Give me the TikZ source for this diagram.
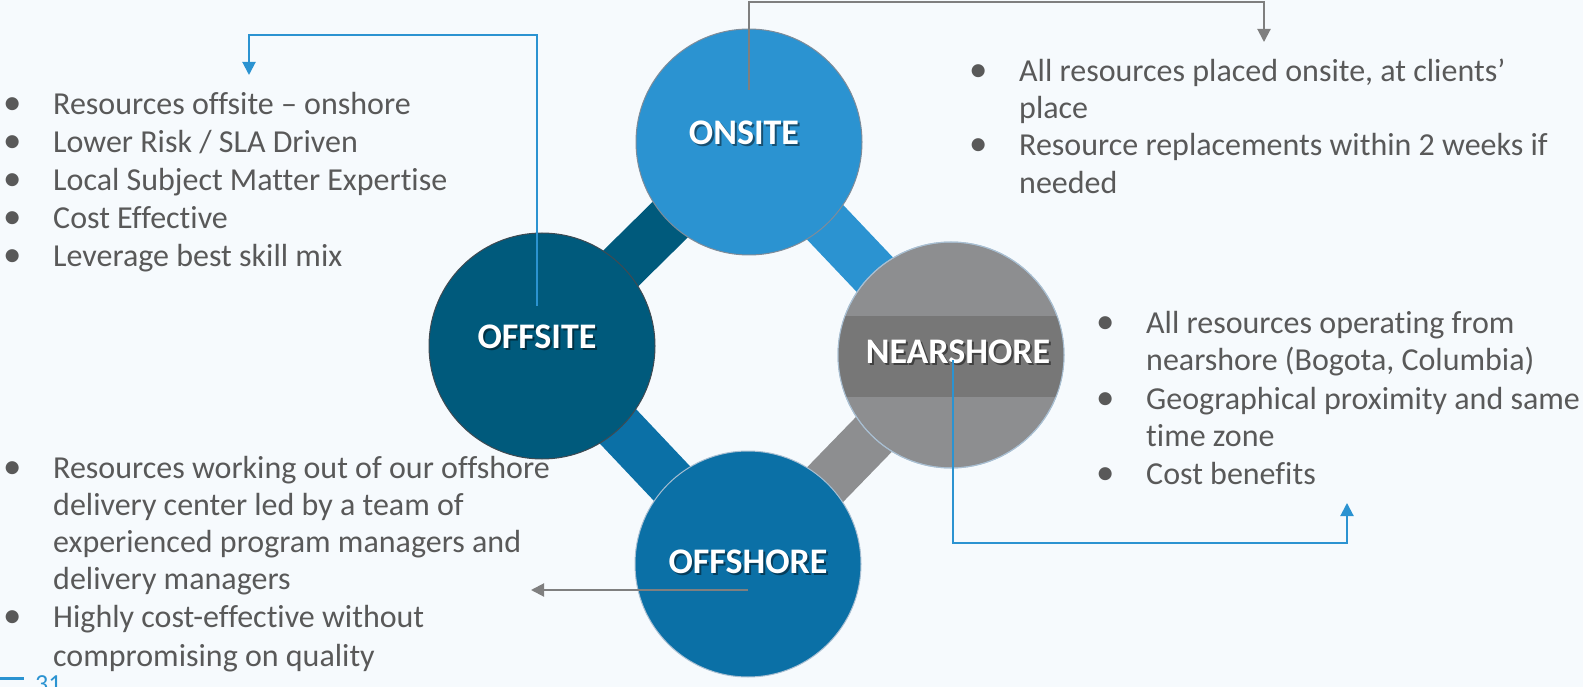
\documentclass[tikz,border=0pt]{standalone}
\usepackage{fontspec}
\setmainfont{Carlito}[Ligatures=NoCommon]
\usetikzlibrary{arrows.meta}
\definecolor{bg}{HTML}{F6FAFD}
\definecolor{onc}{HTML}{2B93D1}
\definecolor{offc}{HTML}{005A7C}
\definecolor{nearc}{HTML}{8D8E90}
\definecolor{bandc}{HTML}{777777}
\definecolor{offshc}{HTML}{0B70A6}
\definecolor{txtc}{HTML}{595959}
\definecolor{arrg}{HTML}{7F7F7F}
\definecolor{edgea}{HTML}{7F8C99}
\definecolor{edgeb}{HTML}{3F4A52}
\definecolor{edgec}{HTML}{A9BFD2}
\newcommand\bl{\llap{\makebox[41pt][l]{\makebox[0pt]{\scalebox{1.15}{•}}}}}
\begin{document}
\begin{tikzpicture}[x=1pt,y=-1pt,
  circ/.style={circle, minimum size=226pt, inner sep=0pt, line width=1pt},
  bar/.style={line width=50pt, line cap=butt},
  lbl/.style={text=white, font=\fontsize{36}{42}\selectfont\bfseries, inner sep=0pt},
  shd/.style={text=black, opacity=0.45, font=\fontsize{36}{42}\selectfont\bfseries, inner sep=0pt},
  txt/.style={anchor=base west, inner sep=0pt, text=txtc, font=\fontsize{32}{38}\selectfont},
  garr/.style={draw=arrg, line width=2pt, -{Triangle[length=13pt,width=13pt]}},
  barr/.style={draw=onc, line width=2pt, -{Triangle[length=13pt,width=13pt]}},
]
\fill[bg] (0,0) rectangle (1583,687);
\useasboundingbox (0,0) rectangle (1583,687);

% centres
\coordinate (con) at (749,142);
\coordinate (coff) at (542,346);
\coordinate (cnear) at (951,355);
\coordinate (cosh) at (748,564);

% bars
\draw[bar, offc] (con) -- (coff);
\draw[bar, onc] (con) -- (cnear);
\draw[bar, nearc] (cnear) -- (cosh);
\draw[bar, offshc] (coff) -- (cosh);

% circles
\node[circ, fill=onc, draw=edgea] (on) at (con) {};
\node[circ, fill=offc, draw=edgeb] (off) at (coff) {};
\node[circ, fill=nearc, draw=edgec] (near) at (cnear) {};
\node[circ, fill=offshc, draw=edgec] (osh) at (cosh) {};
\begin{scope}
  \clip (cnear) circle (113pt);
  \fill[bandc] (830,316) rectangle (1075,397);
\end{scope}
\draw[edgec, line width=1pt] (cnear) circle (113pt);

% labels
\node[shd] (onls) at (746,135) {ONSITE};
\node[lbl] (onl) at (744,133) {ONSITE};
\node[shd] (offls) at (539,339) {OFFSITE};
\node[lbl] (offl) at (537,337) {OFFSITE};
\node[shd] (nearls) at (960,354) {NEARSHORE};
\node[lbl] (nearl) at (958,352) {NEARSHORE};
\node[shd] (oshls) at (750,564) {OFFSHORE};
\node[lbl] (oshl) at (748,562) {OFFSHORE};

% connectors
\coordinate (g1s) at (749,90);
\coordinate (g1k) at (1264,2);
\coordinate (g1e) at (1264,42);
\draw[garr] (g1s) |- (g1k) -- (g1e);

\coordinate (b1s) at (537,306);
\coordinate (b1k) at (249,35);
\coordinate (b1e) at (249,75);
\draw[barr] (b1s) |- (b1k) -- (b1e);

\coordinate (b2s) at (953,360);
\coordinate (b2k) at (1347,543);
\coordinate (b2e) at (1347,503);
\draw[barr] (b2s) |- (b2k) -- (b2e);

\coordinate (g2s) at (748,590);
\coordinate (g2e) at (531,590);
\draw[garr] (g2s) -- (g2e);

% text: top left
\node[txt] (tl1) at (53,115) {\bl Resources offsite – onshore};
\node[txt] (tl2) at (53,153) {\bl Lower Risk / SLA Driven};
\node[txt] (tl3) at (53,191) {\bl Local Subject Matter Expertise};
\node[txt] (tl4) at (53,229) {\bl Cost Effective};
\node[txt] (tl5) at (53,266) {\bl Leverage best skill mix};

% text: top right
\node[txt] (tr1) at (1019,82) {\bl All resources placed onsite, at clients’};
\node[txt] (tr2) at (1019,119) {place};
\node[txt] (tr3) at (1019,156) {\bl Resource replacements within 2 weeks if};
\node[txt] (tr4) at (1019,194) {needed};

% text: right middle
\node[txt] (rm1) at (1146,333) {\bl All resources operating from};
\node[txt] (rm2) at (1146,370) {nearshore (Bogota, Columbia)};
\node[txt] (rm3) at (1146,409) {\bl Geographical proximity and same};
\node[txt] (rm4) at (1146,446) {time zone};
\node[txt] (rm5) at (1146,484) {\bl Cost benefits};

% text: bottom left
\node[txt] (bl1) at (53,478) {\bl Resources working out of our offshore};
\node[txt] (bl2) at (53,515) {delivery center led by a team of};
\node[txt] (bl3) at (53,552) {experienced program managers and};
\node[txt] (bl4) at (53,589) {delivery managers};
\node[txt] (bl5) at (53,627) {\bl Highly cost-effective without};
\node[txt] (bl6) at (53,666) {compromising on quality};

% page number
\coordinate (pl1) at (0,678);
\coordinate (pl2) at (24,678);
\draw[onc, line width=3pt] (pl1) -- (pl2);
\node[anchor=base west, text=onc, font=\fontsize{26}{30}\selectfont, inner sep=0pt] (pn) at (35,692) {31};
\end{tikzpicture}
\end{document}
